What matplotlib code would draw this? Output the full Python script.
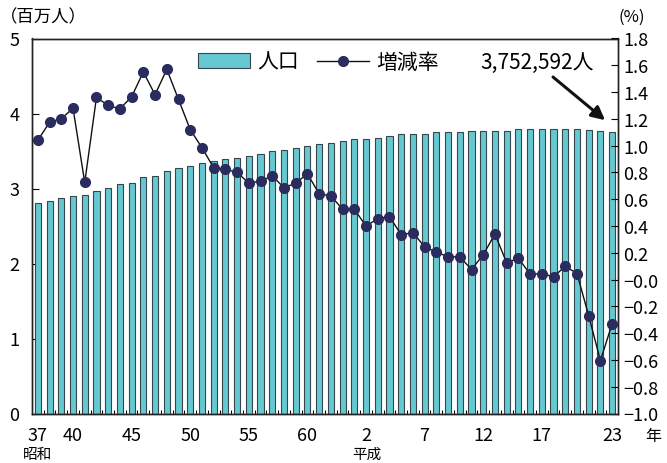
import matplotlib
matplotlib.use("Agg")
import matplotlib.pyplot as plt
from matplotlib.patches import Patch
from matplotlib.lines import Line2D
import numpy as np

plt.rcParams['font.family'] = ['Noto Sans CJK JP', 'DejaVu Sans']
plt.rcParams['axes.unicode_minus'] = True

# years: Showa 37 (1962) .. Heisei 23 (2011)
years = list(range(1962, 2012))

# population (millions)
population = [2.81, 2.84, 2.875, 2.90, 2.92, 2.97, 3.01, 3.06, 3.08, 3.15,
              3.165, 3.23, 3.275, 3.30, 3.345, 3.368, 3.387, 3.41, 3.435, 3.457,
              3.50, 3.52, 3.54, 3.57, 3.587, 3.61, 3.635, 3.657, 3.66, 3.68,
              3.70, 3.724, 3.724, 3.726, 3.747, 3.748, 3.749, 3.768, 3.768, 3.769,
              3.77, 3.79, 3.79, 3.79, 3.791, 3.792, 3.79, 3.785, 3.768, 3.7526]

# growth rate (%)
rate = [1.04, 1.175, 1.20, 1.28, 0.725, 1.36, 1.30, 1.275, 1.365, 1.55,
        1.38, 1.57, 1.345, 1.12, 0.985, 0.835, 0.825, 0.80, 0.72, 0.735,
        0.775, 0.685, 0.72, 0.79, 0.64, 0.625, 0.525, 0.525, 0.40, 0.455,
        0.47, 0.335, 0.35, 0.245, 0.205, 0.17, 0.17, 0.075, 0.185, 0.34,
        0.125, 0.16, 0.04, 0.045, 0.02, 0.10, 0.045, -0.27, -0.605, -0.33]

tick_idx = [0, 3, 8, 13, 18, 23, 28, 33, 38, 43, 49]
tick_labels = ['37', '40', '45', '50', '55', '60', '2', '7', '12', '17', '23']

bar_color = '#66c9d1'
dot_color = '#2a2c5f'

fig = plt.figure(figsize=(6.67, 4.64), dpi=100)
ax = fig.add_axes([32/667, 1-414.5/464, (618-32)/667, (414.5-39.5)/464])
ax2 = ax.twinx()

x = np.arange(len(years))
ax.bar(x, population, width=0.52, color=bar_color, edgecolor='#35474b', linewidth=0.8, zorder=2)
ax.set_xlim(-0.5, len(years) - 0.5)
ax.set_ylim(0, 5)
ax.set_yticks([0, 1, 2, 3, 4, 5])
ax.set_xticks(tick_idx)
ax.set_xticklabels(tick_labels)
ax.set_xticks(np.arange(len(years) - 1) + 0.5, minor=True)
ax.tick_params(axis='x', which='major', length=0, pad=9, labelsize=13)
ax.tick_params(axis='x', which='minor', direction='in', length=3, width=0.8)
ax.tick_params(axis='y', direction='in', length=5, width=0.8, pad=9, labelsize=13)

ax2.plot(x, rate, color='#111111', linewidth=1.0, marker='o', markersize=7,
         markerfacecolor=dot_color, markeredgecolor=dot_color, zorder=3)
ax2.set_ylim(-1.0, 1.8)
rticks = np.round(np.arange(-1.0, 1.81, 0.2), 1)
ax2.set_yticks(rticks)
ax2.set_yticklabels([f'{v:.1f}'.replace('-', '−') for v in rticks])
ax2.tick_params(axis='y', direction='in', length=5, width=0.8, pad=4, labelsize=13)

for a in (ax, ax2):
    for s in a.spines.values():
        s.set_linewidth(1.0)
        s.set_color('#222222')

# units and era labels
fig.text(0/667, 1-17/464, '（百万人）', fontsize=12.5, va='center', ha='left')
fig.text(618/667, 1-17/464, '(%)', fontsize=12, va='center', ha='left')
fig.text(645/667, 1-437/464, '年', fontsize=11.5, va='center', ha='left')
fig.text(38/667, 1-455/464, '昭和', fontsize=10.5, va='center', ha='center')
fig.text(367/667, 1-455/464, '平成', fontsize=10.5, va='center', ha='center')

# legend
handles = [Patch(facecolor=bar_color, edgecolor='#35474b', linewidth=0.8),
           Line2D([], [], color='#111111', linewidth=1.0, marker='o', markersize=7,
                  markerfacecolor=dot_color, markeredgecolor=dot_color)]
ax2.legend(handles, ['人口', '増減率'], ncol=2, frameon=False, fontsize=15,
           loc='upper left', bbox_to_anchor=(198/667, 1-52/464), bbox_transform=fig.transFigure,
           borderpad=0, borderaxespad=0, handlelength=2.5, handleheight=0.75,
           handletextpad=0.35, columnspacing=0.85)

# annotation of the last value
fig.text(537/667, 1-63/464, '3,752,592人', fontsize=15, ha='center', va='center')
ax2.annotate('', xy=(x[-1] - 0.6, 1.19), xytext=(553, 464-78), textcoords='figure pixels',
             arrowprops=dict(arrowstyle='-|>', color='#111111', lw=2.2, mutation_scale=20,
                             shrinkA=0, shrinkB=0))

fig.savefig('out.png', dpi=100)
